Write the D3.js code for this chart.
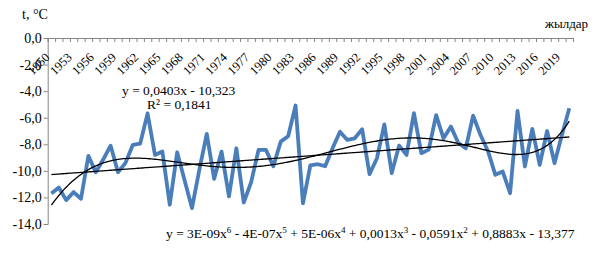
<!DOCTYPE html>
<meta charset="utf-8">
<style>
  body { margin: 0; background: #fff; }
  svg text { font-family: "Liberation Serif", "Times New Roman", serif; fill: #000; }
</style>
<script src="https://d3js.org/d3.v7.min.js"></script>
<div id="chart"></div>
<script>
  // years 1950..2020 and mean annual temperature
  var years = d3.range(1950, 2021);
  var temps = [-11.7, -11.25, -12.2, -11.6, -12.1, -8.87, -10.1, -9.15, -8.1, -10.1,
               -9.42, -8.05, -7.95, -5.68, -8.8, -8.55, -12.55, -8.6, -10.7, -12.8,
               -9.9, -7.22, -10.6, -8.55, -11.92, -8.3, -12.38, -10.85, -8.42, -8.42,
               -9.65, -7.8, -7.4, -5.08, -12.44, -9.58, -9.5, -9.65, -8.3, -7.05,
               -7.67, -7.55, -6.87, -10.25, -9.05, -6.5, -10.17, -8.1, -8.8, -5.65,
               -8.67, -8.4, -5.8, -7.55, -6.67, -7.9, -8.3, -5.85, -7.3, -8.5,
               -10.3, -10.05, -11.68, -5.49, -9.67, -6.84, -9.55, -7.0, -9.42, -7.3,
               -5.29];
  var yTicks = [0, -2, -4, -6, -8, -10, -12, -14];
  var labelYears = years.filter(function(d) { return (d - 1950) % 3 === 0; });
  var linEq = "y = 0,0403x - 10,323";
  var r2Text = "R² = 0,1841";

  var W = 598, H = 255;
  var mLeft = 47.7, mRight = 573, mTop = 38, mBottom = 224;

  var svg = d3.select("#chart").append("svg")
      .attr("width", W).attr("height", H);

  var x = d3.scaleBand().domain(years).range([mLeft, mRight]).paddingInner(0).paddingOuter(0);
  var y = d3.scaleLinear().domain([-14, 0]).range([mBottom, mTop]);

  // Y axis
  var yAxis = svg.append("g")
      .attr("transform", "translate(" + mLeft + ",0)")
      .call(d3.axisLeft(y).tickValues(yTicks).tickSize(4)
        .tickFormat(function(d) { return d.toFixed(1).replace(".", ","); }));
  yAxis.select(".domain").attr("stroke", "#868686");
  yAxis.selectAll(".tick line").attr("stroke", "#868686");
  yAxis.selectAll(".tick text").attr("x", -6).style("font-size", "14px")
      .style("font-family", "Liberation Serif");

  // X axis along 0 line, ticks at category boundaries
  var xb = d3.scaleLinear().domain([0, years.length]).range([mLeft, mRight]);
  var xAxis = svg.append("g")
      .attr("transform", "translate(0," + y(0) + ")")
      .call(d3.axisBottom(xb).tickValues(d3.range(years.length + 1)).tickSize(4).tickFormat(""));
  xAxis.select(".domain").attr("stroke", "#868686");
  xAxis.selectAll(".tick line").attr("stroke", "#868686");

  // rotated year labels, every third year
  svg.append("g").selectAll("text")
    .data(labelYears).enter().append("text")
      .attr("transform", function(d) {
        return "translate(" + (x(d) + x.bandwidth() / 2 - 1) + "," + (y(0) + 20) + ") rotate(-45)";
      })
      .attr("text-anchor", "end")
      .style("font-size", "12.5px")
      .text(function(d) { return d; });

  svg.append("text").attr("x", 22).attr("y", 19).style("font-size", "14px").text("t, °C");
  svg.append("text").attr("x", 545).attr("y", 28).style("font-size", "13px").text("жылдар");

  // data line
  var cx = function(i) { return x(years[i]) + x.bandwidth() / 2; };
  svg.append("path")
      .datum(temps)
      .attr("fill", "none")
      .attr("stroke", "#4a7ebb")
      .attr("stroke-width", 3.8)
      .attr("stroke-linejoin", "round")
      .attr("d", d3.line().x(function(d, i) { return cx(i); }).y(function(d) { return y(d); }));

  // least squares polynomial fit, x = 1..n
  function polyFit(vals, deg) {
    var n = vals.length, mid = (n + 1) / 2, half = (n - 1) / 2;
    var A = [], b = [];
    for (var r = 0; r <= deg; r++) { A.push(new Array(deg + 1).fill(0)); b.push(0); }
    vals.forEach(function(v, i) {
      var t = (i + 1 - mid) / half;
      for (var r = 0; r <= deg; r++) {
        b[r] += v * Math.pow(t, r);
        for (var c = 0; c <= deg; c++) A[r][c] += Math.pow(t, r + c);
      }
    });
    // gauss elimination
    for (var k = 0; k <= deg; k++) {
      var p = k;
      for (var r = k + 1; r <= deg; r++) if (Math.abs(A[r][k]) > Math.abs(A[p][k])) p = r;
      var tmp = A[k]; A[k] = A[p]; A[p] = tmp; var tb = b[k]; b[k] = b[p]; b[p] = tb;
      for (var r = k + 1; r <= deg; r++) {
        var f = A[r][k] / A[k][k];
        for (var c = k; c <= deg; c++) A[r][c] -= f * A[k][c];
        b[r] -= f * b[k];
      }
    }
    var coef = new Array(deg + 1).fill(0);
    for (var k = deg; k >= 0; k--) {
      var s = b[k];
      for (var c = k + 1; c <= deg; c++) s -= A[k][c] * coef[c];
      coef[k] = s / A[k][k];
    }
    return function(xv) {
      var t = (xv - mid) / half, s = 0;
      for (var r = 0; r <= deg; r++) s += coef[r] * Math.pow(t, r);
      return s;
    };
  }

  var linFn = polyFit(temps, 1);
  var polyFn = polyFit(temps, 6);
  var xs = d3.range(1, years.length + 0.001, 0.25);
  var xpos = d3.scaleLinear().domain([1, years.length]).range([cx(0), cx(years.length - 1)]);
  var trend = d3.line().x(function(d) { return xpos(d[0]); }).y(function(d) { return y(d[1]); });

  svg.append("path")
      .datum(xs.map(function(v) { return [v, linFn(v)]; }))
      .attr("fill", "none").attr("stroke", "#000").attr("stroke-width", 1.3)
      .attr("d", trend);
  svg.append("path")
      .datum(xs.map(function(v) { return [v, polyFn(v)]; }))
      .attr("fill", "none").attr("stroke", "#000").attr("stroke-width", 1.3)
      .attr("d", trend);

  // equations
  svg.append("text").attr("x", 122).attr("y", 95).style("font-size", "13.5px").text(linEq);
  svg.append("text").attr("x", 147).attr("y", 109).style("font-size", "13.5px").text(r2Text);

  var poly = svg.append("text").attr("x", 166).attr("y", 238).style("font-size", "13.5px");
  var parts = [["y = 3E-09x", "6"], [" - 4E-07x", "5"], [" + 5E-06x", "4"], [" + 0,0013x", "3"],
               [" - 0,0591x", "2"], [" + 0,8883x - 13,377", null]];
  var raised = false;
  parts.forEach(function(p) {
    poly.append("tspan").attr("dy", raised ? 5 : 0).text(p[0]);
    raised = false;
    if (p[1]) {
      poly.append("tspan").attr("dy", -5).style("font-size", "9px").text(p[1]);
      raised = true;
    }
  });
</script>
